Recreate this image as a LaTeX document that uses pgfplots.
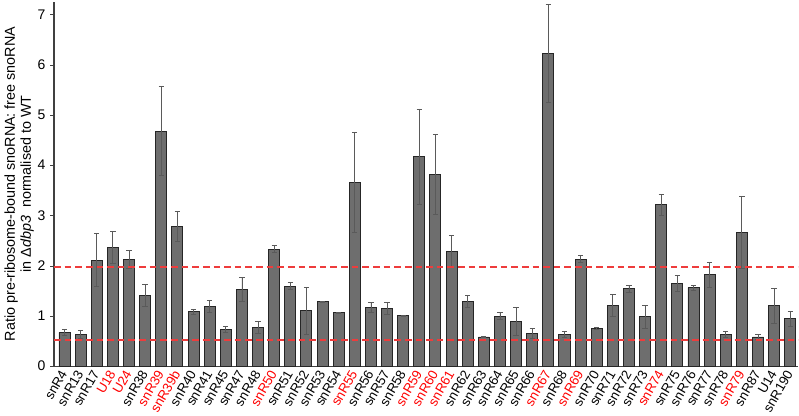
\documentclass[border=0pt]{standalone}
\usepackage{pgfplots}
\pgfplotsset{compat=1.18}
\usepackage{pgfplotstable}
\usepackage{fontspec}
\setmainfont{Liberation Sans}
\definecolor{barfill}{HTML}{6E6E6E}
\definecolor{errc}{HTML}{5A5A5A}
\definecolor{lred}{RGB}{238,60,60}

\pgfplotstableread{
x  y     e
0  0.67  0.06
1  0.63  0.08
2  2.11  0.53
3  2.36  0.32
4  2.13  0.18
5  1.40  0.22
6  4.68  0.89
7  2.78  0.30
8  1.08  0.05
9  1.18  0.12
10 0.73  0.06
11 1.52  0.24
12 0.77  0.12
13 2.33  0.07
14 1.59  0.07
15 1.10  0.46
16 1.28  0.01
17 1.06  0.01
18 3.66  1.00
19 1.16  0.10
20 1.14  0.12
21 1.00  0.01
22 4.17  0.95
23 3.82  0.79
24 2.28  0.32
25 1.28  0.12
26 0.58  0.01
27 0.99  0.07
28 0.89  0.27
29 0.65  0.10
30 6.22  0.98
31 0.63  0.06
32 2.13  0.07
33 0.75  0.02
34 1.20  0.22
35 1.54  0.07
36 0.98  0.23
37 3.21  0.20
38 1.64  0.16
39 1.56  0.05
40 1.82  0.25
41 0.63  0.06
42 2.66  0.71
43 0.58  0.05
44 1.20  0.34
45 0.94  0.15
}\ratios

\begin{document}
\begin{tikzpicture}
\begin{axis}[
  scale only axis, width=560pt, height=274pt,
  xmin=-0.65, xmax=45.5, ymin=0, ymax=7.25,
  axis lines*=left,
  axis line style={black!75, line width=0.8pt},
  ytick={0,1,...,7},
  tick align=outside, major tick length=3pt,
  ytick style={black!75},
  xtick=data, xtick style={draw=none},
  xticklabels={snR4,snR13,snR17,\textcolor{red}{U18},\textcolor{red}{U24},snR38,
    \textcolor{red}{snR39},\textcolor{red}{snR39b},snR40,snR41,snR45,snR47,snR48,
    \textcolor{red}{snR50},snR51,snR52,snR53,snR54,\textcolor{red}{snR55},snR56,snR57,snR58,
    \textcolor{red}{snR59},\textcolor{red}{snR60},\textcolor{red}{snR61},snR62,snR63,snR64,snR65,snR66,
    \textcolor{red}{snR67},snR68,\textcolor{red}{snR69},snR70,snR71,snR72,snR73,
    \textcolor{red}{snR74},snR75,snR76,snR77,snR78,\textcolor{red}{snR79},snR87,U14,snR190},
  xticklabel style={rotate=60, anchor=east, font=\fontsize{10}{12}\selectfont, inner sep=1pt},
  yticklabel style={font=\fontsize{10.5}{12}\selectfont},
  /pgf/number format/assume math mode=true,
  ylabel={Ratio pre-ribosome-bound snoRNA: free snoRNA\\in Δ\textit{dbp3}\ \ normalised to WT},
  ylabel style={align=center, font=\fontsize{10.8}{12}\selectfont},
  ylabel shift=-4pt,
  clip=false,
]
\addplot[ybar, bar width=8.3pt, fill=barfill, draw=black!85, line width=0.7pt,
  error bars/.cd, y dir=both, y explicit,
  error bar style={errc, line width=0.6pt},
  error mark options={errc, rotate=90, mark size=2pt, line width=0.6pt}]
  table[x=x, y=y, y error=e] {\ratios};
\addplot[draw=lred, line width=1pt, dash pattern=on 5pt off 3pt] coordinates {(-0.65,1.97) (45.5,1.97)};
\addplot[draw=lred, line width=1pt, dash pattern=on 5pt off 3pt] coordinates {(-0.65,0.52) (45.5,0.52)};
\end{axis}
\end{tikzpicture}
\end{document}
